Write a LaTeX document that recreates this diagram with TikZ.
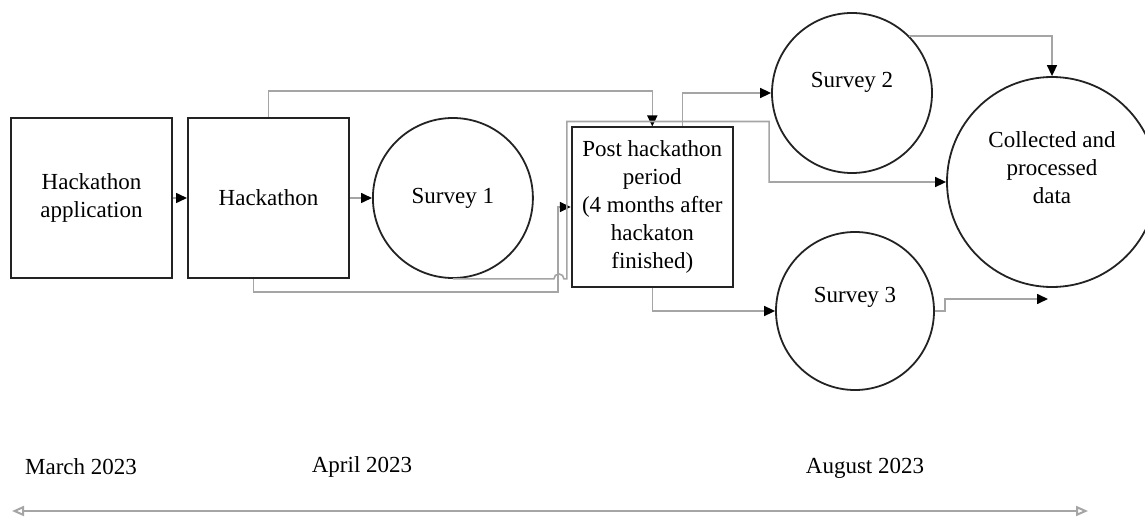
\documentclass[tikz,border=0pt]{standalone}
\usepackage{fontspec}
\setmainfont{Liberation Serif}
\usepackage{xcolor}
\usetikzlibrary{arrows.meta, positioning}
\definecolor{linkgray}{RGB}{165, 165, 165}
\definecolor{framegray}{RGB}{35, 35, 35}

\begin{document}
\begin{tikzpicture}[
    x=0.5pt, y=-0.5pt,
    every node/.style={font=\fontsize{11.5}{14}\selectfont},
    stage/.style={rectangle, draw=framegray, line width=1pt, align=center, minimum width=80.5pt, minimum height=80pt, inner sep=3pt},
    bubble/.style={circle, draw=framegray, line width=0.9pt, align=center, minimum size=80pt, inner sep=0pt},
    link/.style={draw=linkgray, line width=0.8pt, -{Triangle[length=5.5pt, width=5pt, color=black]}},
    month/.style={inner sep=0pt},
    timeline/.style={draw=linkgray, line width=1pt, {Triangle[open, length=6pt, width=5pt]}-{Triangle[open, length=6pt, width=5pt]}}
]
\path[use as bounding box, clip] (0,0) rectangle (1145,518);

\node[stage] (app) at (91.5,198) {Hackathon\\application};
\node[stage, right=7pt of app] (hack) {Hackathon};
\node[bubble, right=11pt of hack] (survey1) {Survey 1};
\node[stage, minimum height=79.5pt, right=18.5pt of survey1, yshift=-4.5pt] (post) {Post hackathon\\period\\(4 months after\\hackaton\\finished)};

\node[bubble, label={[yshift=5.5pt]center:Survey 2}] (survey2) at (852,93) {};
\node[bubble, minimum size=105pt, label={[yshift=7pt, align=center]center:Collected and\\processed\\data}] (data) at (1052,182) {};
\node[bubble, minimum size=79pt, label={[yshift=7pt]center:Survey 3}] (survey3) at (855,311) {};
\coordinate (dataout) at (1048,299);

\draw[link] (app) -- (hack);
\draw[link] (hack) -- (survey1);
\draw[link] (hack.north) -- ++(0,-26) -| (post.north);
\draw[link] ([xshift=-7.5pt]hack.south) -- ++(0,13) -| ([xshift=-6.5pt]post.west) -- (post.west);
\draw[link] (survey1.south) -- ++(101,0) arc[start angle=180, end angle=0, radius=2.5pt] -- ([xshift=-2pt]post.west |- survey1.south) -- ([shift={(-2pt,2.5pt)}]post.north west) -| ([xshift=-88.5pt]data.west) -- (data.west);
\draw[link] ([xshift=15pt]post.north) |- (survey2.west);
\draw[link] (survey2.north east) -| (data.north);
\draw[link] (post.south) |- (survey3.west);
\draw[link] (survey3.east) -- ++(10,0) |- (dataout);

% time axis
\node[month] (march) at (81,467) {March 2023};
\node[month] (april) at (362,467) {April 2023};
\node[month] (august) at (865,468) {August 2023};
\coordinate (tlstart) at (12,511);
\coordinate (tlend) at (1088,511);
\draw[timeline] (tlstart) -- (tlend);

\end{tikzpicture}
\end{document}
